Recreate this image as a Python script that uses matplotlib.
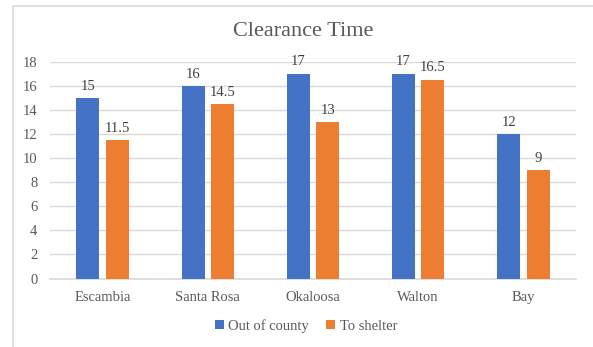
import numpy as np
import matplotlib.pyplot as plt
from matplotlib.patches import Rectangle

counties = ["Escambia", "Santa Rosa", "Okaloosa", "Walton", "Bay"]
out_of_county = [15, 16, 17, 17, 12]
to_shelter = [11.5, 14.5, 13, 16.5, 9]
series_names = ["Out of county", "To shelter"]
colors = ["#4472C4", "#ED7D31"]

plt.rcParams['font.family'] = ['Liberation Serif', 'DejaVu Serif']

W, H = 593, 347
fig = plt.figure(figsize=(W / 100, H / 100), dpi=100)
fig.patch.set_facecolor('white')

# outer chart frame (left and top edges visible)
fig.patches.append(Rectangle((13 / W, -0.1), 1.2, (H - 6) / H + 0.1,
                             transform=fig.transFigure, fill=False,
                             edgecolor='#D9D9D9', linewidth=1.2))

ax = fig.add_axes([50 / W, (H - 278.5) / H, 526 / W, 216.5 / H])
x = np.arange(len(counties))
bw = 0.22
gap = 0.06
b1 = ax.bar(x - (bw + gap) / 2, out_of_county, bw, color=colors[0], label=series_names[0], zorder=3)
b2 = ax.bar(x + (bw + gap) / 2, to_shelter, bw, color=colors[1], label=series_names[1], zorder=3)

for bars, vals in ((b1, out_of_county), (b2, to_shelter)):
    for rect, v in zip(bars, vals):
        ax.annotate(f"{v:g}", (rect.get_x() + rect.get_width() / 2, v),
                    xytext=(0, 4), textcoords='offset points', ha='center', va='bottom',
                    fontsize=10.5, color='#404040')

ax.set_xlim(-0.5, len(counties) - 0.5)
ax.set_ylim(0, 18)
ax.set_yticks(range(0, 19, 2))
ax.set_xticks(x)
ax.set_xticklabels(counties)
ax.yaxis.grid(True, color='#D9D9D9', linewidth=1)
ax.set_axisbelow(True)
for s in ('top', 'right', 'left'):
    ax.spines[s].set_visible(False)
ax.spines['bottom'].set_color('#D9D9D9')
ax.spines['bottom'].set_linewidth(1.2)
ax.tick_params(axis='both', length=0, colors='#595959', labelsize=10.5)
ax.tick_params(axis='x', pad=9)
ax.tick_params(axis='y', pad=9)

fig.text(303 / W, 1 - 32 / H, "Clearance Time", ha='center', va='center',
         fontsize=16, color='#595959')

fig.legend(handles=[b1, b2], loc='center', bbox_to_anchor=(306 / W, 1 - 326 / H),
           ncol=2, frameon=False, fontsize=10.5, handlelength=0.6, handleheight=0.6,
           handletextpad=0.3, columnspacing=1.2, labelcolor='#595959')

fig.savefig("out.png", dpi=100, facecolor='white')
